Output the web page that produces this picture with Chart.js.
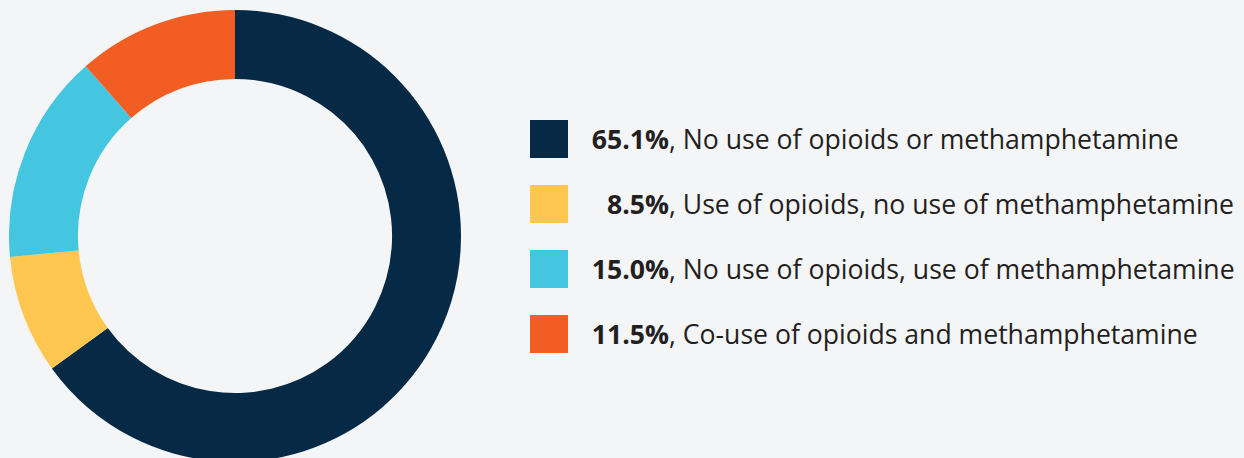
<!DOCTYPE html>
<html>
<head>
<meta charset="utf-8">
<script src="https://cdn.jsdelivr.net/npm/chart.js@4"></script>
<style>
  html, body { margin: 0; padding: 0; }
  body {
    width: 1244px; height: 458px; overflow: hidden;
    background: #f4f5f7; position: relative;
    font-family: 'Open Sans', sans-serif; color: #231f20;
  }
  #wrap { position: absolute; left: 9px; top: 10px; width: 452px; height: 452px; }
  #legend { position: absolute; left: 530px; top: 120px; }
  .item { display: flex; align-items: center; height: 38px; margin-bottom: 27px; }
  .box { width: 38px; height: 38px; flex: none; }
  .pct { width: 101px; text-align: right; font-weight: 700; font-size: 26.6px; }
  .lbl { font-size: 26.6px; white-space: nowrap; }
</style>
</head>
<body>
<div id="wrap"><canvas id="donut" width="452" height="452"></canvas></div>
<div id="legend"></div>
<script>
const labels = [
  'No use of opioids or methamphetamine',
  'Use of opioids, no use of methamphetamine',
  'No use of opioids, use of methamphetamine',
  'Co-use of opioids and methamphetamine'
];
const shares = [65.1, 8.5, 15.0, 11.5];
const colors = ['#062945', '#ffc74f', '#45c6e0', '#f15d22'];

new Chart(document.getElementById('donut'), {
  type: 'doughnut',
  data: {
    labels,
    datasets: [{
      data: shares,
      backgroundColor: colors,
      borderWidth: 0
    }]
  },
  options: {
    responsive: false,
    animation: false,
    cutout: '69.5%',
    layout: { padding: 0 },
    plugins: {
      legend: { display: false },
      tooltip: { enabled: false }
    }
  }
});

const legend = document.getElementById('legend');
labels.forEach((name, i) => {
  const row = document.createElement('div');
  row.className = 'item';
  row.innerHTML =
    `<span class="box" style="background:${colors[i]}"></span>` +
    `<span class="pct">${shares[i].toFixed(1)}%</span>` +
    `<span class="lbl">, ${name}</span>`;
  legend.appendChild(row);
});
</script>
</body>
</html>
